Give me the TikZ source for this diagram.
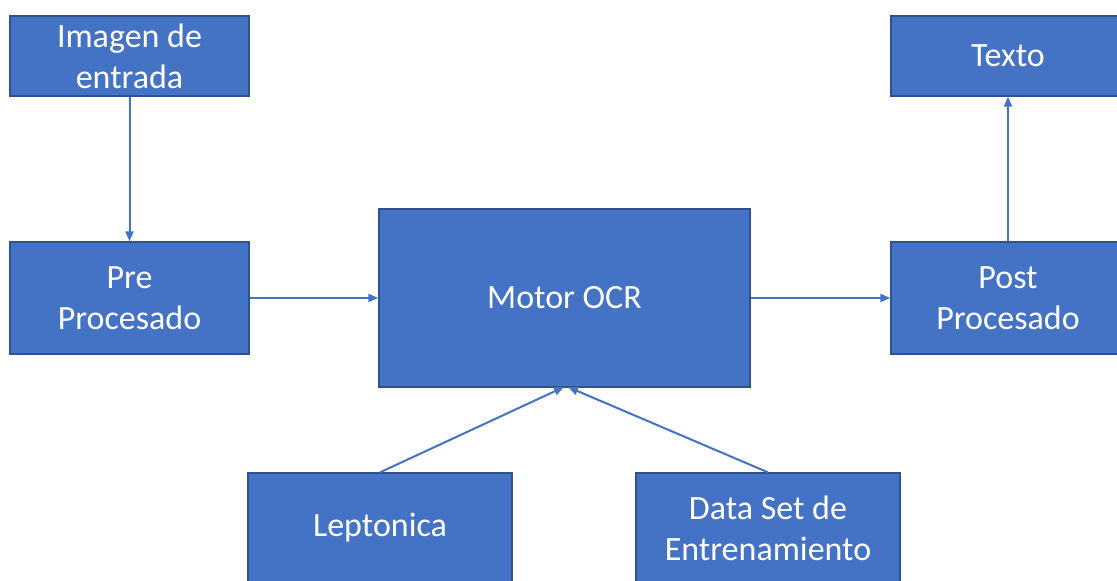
\documentclass[tikz,border=0pt]{standalone}
\usepackage{fontspec}
\setmainfont{Carlito}
\usetikzlibrary{arrows.meta}
\definecolor{boxfill}{HTML}{4472C4}
\definecolor{boxline}{HTML}{2F528F}
\begin{document}
\begin{tikzpicture}[x=1pt,y=-1pt,
  blk/.style={draw=boxline,line width=1.3pt,fill=boxfill,text=white,
    align=center,inner sep=0pt,
    font=\fontsize{34}{41}\selectfont},
  conn/.style={draw=boxfill,line width=2pt,-{Triangle[length=10pt,width=8pt]}}]
\useasboundingbox (0,0) rectangle (1117,581);
\node[blk,minimum width=239pt,minimum height=80pt] (img) at (129.5,56) {Imagen de\\entrada};
\node[blk,minimum width=239pt,minimum height=112pt] (pre) at (129.5,298) {Pre\\Procesado};
\node[blk,minimum width=371pt,minimum height=178pt] (ocr) at (564.5,298) {Motor OCR};
\node[blk,minimum width=234pt,minimum height=112pt] (post) at (1008,298) {Post\\Procesado};
\node[blk,minimum width=234pt,minimum height=80pt] (txt) at (1008,56) {Texto};
\node[blk,minimum width=264pt,minimum height=110pt] (lep) at (380,528) {Leptonica};
\node[blk,minimum width=264pt,minimum height=110pt] (ds) at (768,528) {Data Set de\\Entrenamiento};
\coordinate (ocrL) at (564,387);
\coordinate (ocrR) at (568,387);
\draw[conn] (img.south) -- (pre.north);
\draw[conn] (pre.east) -- (ocr.west);
\draw[conn] (ocr.east) -- (post.west);
\draw[conn] (post.north) -- (txt.south);
\draw[conn] (lep.north) -- (ocrL);
\draw[conn] (ds.north) -- (ocrR);
\end{tikzpicture}
\end{document}
